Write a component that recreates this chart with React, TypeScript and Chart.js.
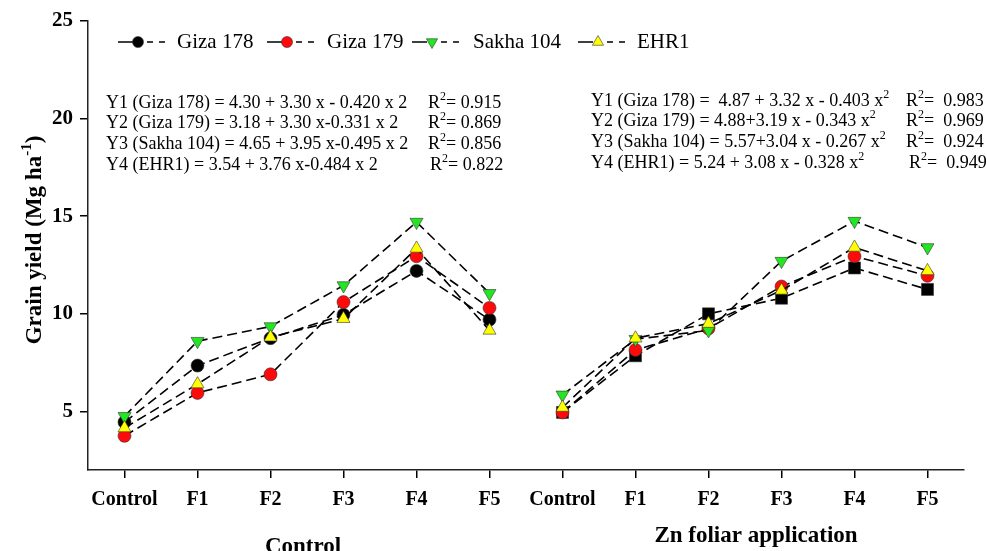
import { useEffect, useRef } from "react";
import { Chart, registerables } from "chart.js";
Chart.register(...registerables);

const treatments = ["Control", "F1", "F2", "F3", "F4", "F5"];
const groupLabels = ["Control", "Zn foliar application"];
const seriesNames = ["Giza 178", "Giza 179", "Sakha 104", "EHR1"];
const yTitle = "Grain yield (Mg ha";
const yTitleSup = "-1";

// Control panel
const ctrlGiza178 = [4.45, 7.35, 8.75, 9.95, 12.2, 9.7];
const ctrlGiza179 = [3.75, 5.95, 6.9, 10.6, 12.95, 10.3];
const ctrlSakha104 = [4.75, 8.6, 9.35, 11.45, 14.7, 11.05];
const ctrlEHR1 = [4.15, 6.4, 8.8, 9.75, 13.35, 9.15];

// Zn foliar application panel
const znGiza178 = [4.95, 7.85, 10.0, 10.8, 12.35, 11.25];
const znGiza179 = [4.95, 8.15, 9.25, 11.4, 12.95, 11.95];
const znSakha104 = [5.85, 8.7, 9.15, 12.7, 14.75, 13.4];
const znEHR1 = [5.2, 8.75, 9.5, 11.2, 13.4, 12.2];

const yTicks = [5, 10, 15, 20, 25];

const ctrlEquations = [
  "Y1 (Giza 178) = 4.30 + 3.30 x - 0.420 x 2",
  "Y2 (Giza 179) = 3.18 + 3.30 x-0.331 x 2",
  "Y3 (Sakha 104) = 4.65 + 3.95 x-0.495 x 2",
  "Y4 (EHR1) = 3.54 + 3.76 x-0.484 x 2",
];
const ctrlR2 = ["0.915", "0.869", "0.856", "0.822"];
const znEquations = [
  "Y1 (Giza 178) =  4.87 + 3.32 x - 0.403 x",
  "Y2 (Giza 179) = 4.88+3.19 x - 0.343 x",
  "Y3 (Sakha 104) = 5.57+3.04 x - 0.267 x",
  "Y4 (EHR1) = 5.24 + 3.08 x - 0.328 x",
];
const znR2 = ["0.983", "0.969", "0.924", "0.949"];

const FONT = '"Liberation Serif", "Times New Roman", serif';
const RED = "#ff0a0a";
const GREEN = "#22e622";
const YELLOW = "#ffff00";

type Part = [string, boolean];

function drawRich(ctx: CanvasRenderingContext2D, parts: Part[], x: number, y: number, size: number, weight: string) {
  let cx = x;
  for (const [t, sup] of parts) {
    ctx.font = `${weight} ${sup ? Math.round(size * 0.65) : size}px ${FONT}`;
    ctx.fillText(t, cx, sup ? y - size * 0.36 : y);
    cx += ctx.measureText(t).width;
  }
  return cx - x;
}

function measureRich(ctx: CanvasRenderingContext2D, parts: Part[], size: number, weight: string) {
  let w = 0;
  for (const [t, sup] of parts) {
    ctx.font = `${weight} ${sup ? Math.round(size * 0.65) : size}px ${FONT}`;
    w += ctx.measureText(t).width;
  }
  return w;
}

function marker(ctx: CanvasRenderingContext2D, style: string, x: number, y: number, r: number, fill: string) {
  ctx.beginPath();
  if (style === "circle") {
    ctx.arc(x, y, r, 0, Math.PI * 2);
  } else if (style === "down") {
    ctx.moveTo(x - r * 0.87, y - r * 0.5);
    ctx.lineTo(x + r * 0.87, y - r * 0.5);
    ctx.lineTo(x, y + r);
    ctx.closePath();
  } else {
    ctx.moveTo(x - r * 0.87, y + r * 0.5);
    ctx.lineTo(x + r * 0.87, y + r * 0.5);
    ctx.lineTo(x, y - r);
    ctx.closePath();
  }
  ctx.fillStyle = fill;
  ctx.fill();
  ctx.lineWidth = 0.6;
  ctx.strokeStyle = "#333";
  ctx.stroke();
}

const overlay = {
  id: "overlay",
  afterDraw(chart: any) {
    const ctx: CanvasRenderingContext2D = chart.ctx;
    ctx.save();
    ctx.fillStyle = "#000";
    ctx.textBaseline = "middle";
    ctx.textAlign = "left";

    // legend
    const legendMarkers = [138, 287, 432, 598];
    const legendTexts = [177, 327, 473, 637];
    const styles = ["circle", "circle", "down", "up"];
    const fills = ["#000", RED, GREEN, YELLOW];
    const ly = 42;
    seriesNames.forEach((name, i) => {
      const m = legendMarkers[i];
      ctx.strokeStyle = "#000";
      ctx.lineWidth = 1.5;
      ctx.beginPath();
      ctx.moveTo(m - 20, ly); ctx.lineTo(m - 5, ly);
      ctx.moveTo(m + 9, ly); ctx.lineTo(m + 15, ly);
      ctx.moveTo(m + 21, ly); ctx.lineTo(m + 27, ly);
      ctx.stroke();
      marker(ctx, styles[i], m, ly, styles[i] === "circle" ? 5.5 : 6.5, fills[i]);
      ctx.fillStyle = "#000";
      ctx.font = `21px ${FONT}`;
      ctx.fillText(name, legendTexts[i], ly);
    });

    // equations
    const lineYs = [103, 123, 144, 165];
    const ctrlRx = [428, 428, 428, 430];
    const znRx = [906, 906, 906, 909];
    ctrlEquations.forEach((eq, i) => {
      drawRich(ctx, [[eq, false]], 106, lineYs[i], 18, "normal");
      drawRich(ctx, [["R", false], ["2", true], ["= " + ctrlR2[i], false]], ctrlRx[i], lineYs[i], 18, "normal");
    });
    znEquations.forEach((eq, i) => {
      drawRich(ctx, [[eq, false], ["2", true]], 591, lineYs[i] - 2, 18, "normal");
      drawRich(ctx, [["R", false], ["2", true], ["=  " + znR2[i], false]], znRx[i], lineYs[i] - 2, 18, "normal");
    });

    // group labels
    ctx.textAlign = "center";
    ctx.textBaseline = "alphabetic";
    ctx.font = `bold 23px ${FONT}`;
    ctx.fillText(groupLabels[0], 303, 553);
    ctx.fillText(groupLabels[1], 756, 542);

    // y title
    ctx.save();
    ctx.translate(35, 240);
    ctx.rotate(-Math.PI / 2);
    ctx.textAlign = "left";
    ctx.textBaseline = "middle";
    const parts: Part[] = [[yTitle, false], [yTitleSup, true], [")", false]];
    const w = measureRich(ctx, parts, 23, "bold");
    drawRich(ctx, parts, -w / 2, 0, 23, "bold");
    ctx.restore();

    ctx.restore();
  },
};

const pad = (arr: number[], side: number) =>
  side === 0 ? [...arr, ...Array(6).fill(null)] : [...Array(6).fill(null), ...arr];

function ds(label: string, data: (number | null)[], fill: string, style: string, rotation: number, radius: number, order: number) {
  return {
    label,
    data,
    borderColor: "#000",
    borderWidth: 1.6,
    borderDash: [10, 5],
    pointStyle: style,
    pointRotation: rotation,
    pointRadius: radius,
    pointHoverRadius: radius,
    pointBackgroundColor: fill,
    pointBorderColor: "#333",
    pointBorderWidth: 0.6,
    fill: false,
    tension: 0,
    order,
  };
}

export default function App() {
  const ref = useRef<HTMLCanvasElement | null>(null);
  useEffect(() => {
    if (!ref.current) return;
    const labels = [...treatments, ...treatments];
    const chart = new Chart(ref.current, {
      type: "line",
      data: {
        labels,
        datasets: [
          ds(seriesNames[0], pad(ctrlGiza178, 0), "#000", "circle", 0, 6.5, 3),
          ds(seriesNames[1], pad(ctrlGiza179, 0), RED, "circle", 0, 6.5, 2),
          ds(seriesNames[2], pad(ctrlSakha104, 0), GREEN, "triangle", 180, 7.5, 1),
          ds(seriesNames[3], pad(ctrlEHR1, 0), YELLOW, "triangle", 0, 7.5, 0),
          ds(seriesNames[0], pad(znGiza178, 1), "#000", "rect", 0, 8.5, 3),
          ds(seriesNames[1], pad(znGiza179, 1), RED, "circle", 0, 6.5, 2),
          ds(seriesNames[2], pad(znSakha104, 1), GREEN, "triangle", 180, 7.5, 1),
          ds(seriesNames[3], pad(znEHR1, 1), YELLOW, "triangle", 0, 7.5, 0),
        ] as any,
      },
      options: {
        responsive: false,
        animation: false,
        layout: { padding: { left: 0, right: 23, top: 21, bottom: 0 } },
        plugins: { legend: { display: false }, tooltip: { enabled: false }, title: { display: false } },
        scales: {
          x: {
            type: "category",
            offset: true,
            grid: { display: true, drawOnChartArea: false, drawTicks: true, tickLength: 8, offset: false, color: "#000", lineWidth: 1.5 },
            border: { display: true, color: "#222", width: 1.5 },
            ticks: { color: "#000", font: { family: FONT, size: 20, weight: "bold" }, padding: 10, maxRotation: 0, autoSkip: false },
            afterFit: (s: any) => { s.height = 81; },
          },
          y: {
            min: 2,
            max: 25,
            grid: { display: true, drawOnChartArea: false, drawTicks: true, tickLength: 8, color: "#000", lineWidth: 1.5 },
            border: { display: true, color: "#222", width: 1.5 },
            afterBuildTicks: (s: any) => { s.ticks = yTicks.map((v) => ({ value: v })); },
            ticks: { color: "#000", font: { family: FONT, size: 21, weight: "bold" }, padding: 7 },
            afterFit: (s: any) => { s.width = 88; },
          },
        },
      } as any,
      plugins: [overlay],
    });
    return () => chart.destroy();
  }, []);
  return (
    <div style={{ position: "fixed", left: 0, top: 0, width: 987, height: 551, background: "#fff" }}>
      <canvas ref={ref} width={987} height={551} style={{ display: "block" }} />
    </div>
  );
}
